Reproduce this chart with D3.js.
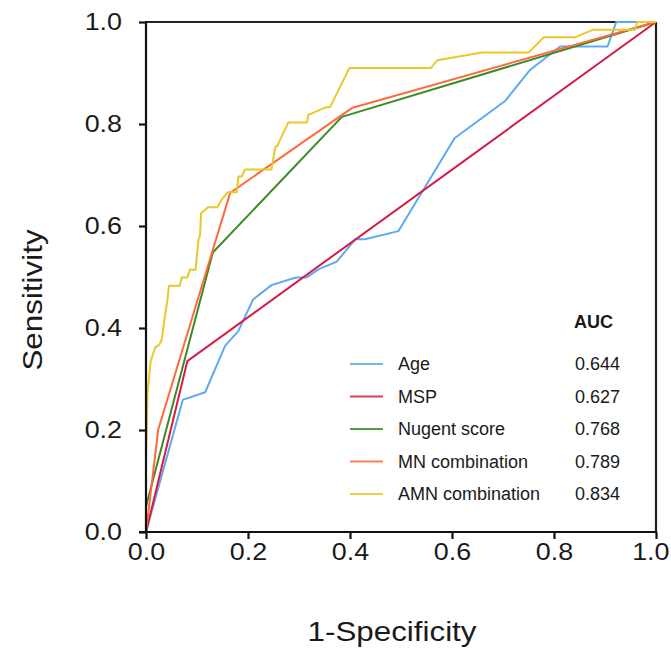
<!DOCTYPE html>
<html>
<head>
<meta charset="utf-8">
<script src="https://cdn.jsdelivr.net/npm/d3@7"></script>
<style>
  body { margin: 0; background: #fff; }
  text { font-family: "Liberation Sans", Arial, Helvetica, sans-serif; fill: #1a1a1a; }
</style>
</head>
<body>
<svg id="chart" width="671" height="650"></svg>
<script>
// ---- data ----
const seriesNames = ["Age", "MSP", "Nugent score", "MN combination", "AMN combination"];
const aucValues = ["0.644", "0.627", "0.768", "0.789", "0.834"];
const seriesColors = ["#5ea9ef", "#d41c45", "#3b8a27", "#ff6a3a", "#e8c92a"];

const ageX = [0, 0.072, 0.116, 0.155, 0.181, 0.210, 0.246, 0.294, 0.315, 0.338, 0.374, 0.410, 0.429, 0.495, 0.605, 0.704, 0.753, 0.812, 0.905, 0.922, 1.0];
const ageY = [0, 0.259, 0.274, 0.365, 0.394, 0.456, 0.484, 0.499, 0.499, 0.515, 0.530, 0.574, 0.574, 0.590, 0.772, 0.845, 0.906, 0.952, 0.952, 1.0, 1.0];

const mspX = [0, 0.081, 1.0];
const mspY = [0, 0.335, 1.0];

const nugentX = [0, 0, 0.131, 0.384, 1.0];
const nugentY = [0, 0.05, 0.548, 0.814, 1.0];

const mnX = [0, 0.024, 0.165, 0.405, 1.0];
const mnY = [0, 0.201, 0.665, 0.832, 1.0];

const amnX = [0, 0, 0.003, 0.009, 0.018, 0.026, 0.031, 0.037, 0.042, 0.045, 0.066, 0.070, 0.081, 0.086, 0.097, 0.103, 0.106, 0.108, 0.122, 0.140, 0.148, 0.160, 0.178, 0.181, 0.188, 0.194, 0.246, 0.248, 0.254, 0.257, 0.279, 0.316, 0.318, 0.354, 0.361, 0.399, 0.559, 0.571, 0.659, 0.750, 0.780, 0.841, 0.877, 0.959, 0.963, 1.0];
const amnY = [0, 0.14, 0.272, 0.334, 0.362, 0.367, 0.378, 0.423, 0.455, 0.483, 0.483, 0.499, 0.499, 0.514, 0.514, 0.574, 0.582, 0.625, 0.637, 0.637, 0.651, 0.666, 0.666, 0.697, 0.697, 0.711, 0.711, 0.723, 0.756, 0.756, 0.803, 0.803, 0.818, 0.833, 0.833, 0.910, 0.910, 0.925, 0.940, 0.940, 0.970, 0.970, 0.985, 0.985, 1.0, 1.0];

const xTicks = [0, 0.2, 0.4, 0.6, 0.8, 1.0];
const yTicks = [0, 0.2, 0.4, 0.6, 0.8, 1.0];
const xTitle = "1-Specificity";
const yTitle = "Sensitivity";
const aucTitle = "AUC";

// ---- layout ----
const svg = d3.select("#chart");
const mLeft = 146, mTop = 22, W = 510, H = 510;
const stretch = 1.12;

const x = d3.scaleLinear().domain([0, 1]).range([mLeft, mLeft + W]);
const y = d3.scaleLinear().domain([0, 1]).range([mTop + H, mTop]);

const series = [
  {xs: ageX, ys: ageY},
  {xs: mspX, ys: mspY},
  {xs: nugentX, ys: nugentY},
  {xs: mnX, ys: mnY},
  {xs: amnX, ys: amnY}
];

// frame (top & right)
svg.append("line").attr("x1", x(0)).attr("x2", x(1)).attr("y1", y(1)).attr("y2", y(1))
  .attr("stroke", "#222").attr("stroke-width", 2.2);
svg.append("line").attr("x1", x(1)).attr("x2", x(1)).attr("y1", y(1)).attr("y2", y(0))
  .attr("stroke", "#222").attr("stroke-width", 2.2);

// curves
const line = d3.line().x(d => x(d[0])).y(d => y(d[1]));
series.forEach((s, i) => {
  const pts = s.xs.map((v, j) => [v, s.ys[j]]);
  svg.append("path").datum(pts)
    .attr("d", line)
    .attr("fill", "none")
    .attr("stroke", seriesColors[i])
    .attr("stroke-width", 2)
    .attr("stroke-linejoin", "round");
});

// axes
const xAxis = svg.append("g").attr("transform", `translate(0,${y(0)})`)
  .call(d3.axisBottom(x).tickValues(xTicks).tickFormat(d3.format(".1f")).tickSize(7).tickPadding(4).tickSizeOuter(0));
const yAxis = svg.append("g").attr("transform", `translate(${x(0)},0)`)
  .call(d3.axisLeft(y).tickValues(yTicks).tickFormat(d3.format(".1f")).tickSize(7).tickPadding(17).tickSizeOuter(0));

[xAxis, yAxis].forEach(g => {
  g.select(".domain").attr("stroke", "#111").attr("stroke-width", 2.2);
  g.selectAll(".tick line").attr("stroke", "#111").attr("stroke-width", 2.2);
  g.selectAll(".tick text").attr("font-size", 24).attr("fill", "#1a1a1a")
    .attr("font-family", "'Liberation Sans', Arial, sans-serif");
});
xAxis.selectAll(".tick text").attr("transform", `scale(${stretch},1)`);
// keep the last x label inside the picture, as in the reference
xAxis.selectAll(".tick text").filter(d => d === 1)
  .attr("text-anchor", "end").attr("transform", `translate(13,0) scale(${stretch},1)`);
yAxis.selectAll(".tick text").attr("x", 0).attr("transform", `translate(-24,0) scale(${stretch},1)`);
xAxis.select(".domain").attr("d", `M${x(0) - 7},0H${x(1) + 1}`);
yAxis.select(".domain").attr("d", `M0,${y(0)}V${y(1) - 1}`);

// titles
svg.append("text").attr("transform", `translate(392,641) scale(${stretch},1)`)
  .attr("text-anchor", "middle").attr("font-size", 28).text(xTitle);
svg.append("text").attr("transform", `translate(42,300) rotate(-90) scale(${stretch},1)`)
  .attr("text-anchor", "middle").attr("font-size", 28).text(yTitle);

// legend
const legX1 = 350, legX2 = 383, legText = 398, aucX = 620;
const rowY = d3.scaleLinear().domain([0, 4]).range([364, 494]);
svg.append("text").attr("x", aucX - 7).attr("y", rowY(0) - 42 + 6)
  .attr("text-anchor", "end").attr("font-size", 18).attr("font-weight", "bold").text(aucTitle);
seriesNames.forEach((name, i) => {
  const yy = rowY(i);
  svg.append("line").attr("x1", legX1).attr("x2", legX2).attr("y1", yy).attr("y2", yy)
    .attr("stroke", seriesColors[i]).attr("stroke-width", 2).attr("opacity", 0.85);
  svg.append("text").attr("x", legText).attr("y", yy + 6).attr("font-size", 18).text(name);
  svg.append("text").attr("x", aucX).attr("y", yy + 6).attr("text-anchor", "end")
    .attr("font-size", 18).text(aucValues[i]);
});
</script>
</body>
</html>
